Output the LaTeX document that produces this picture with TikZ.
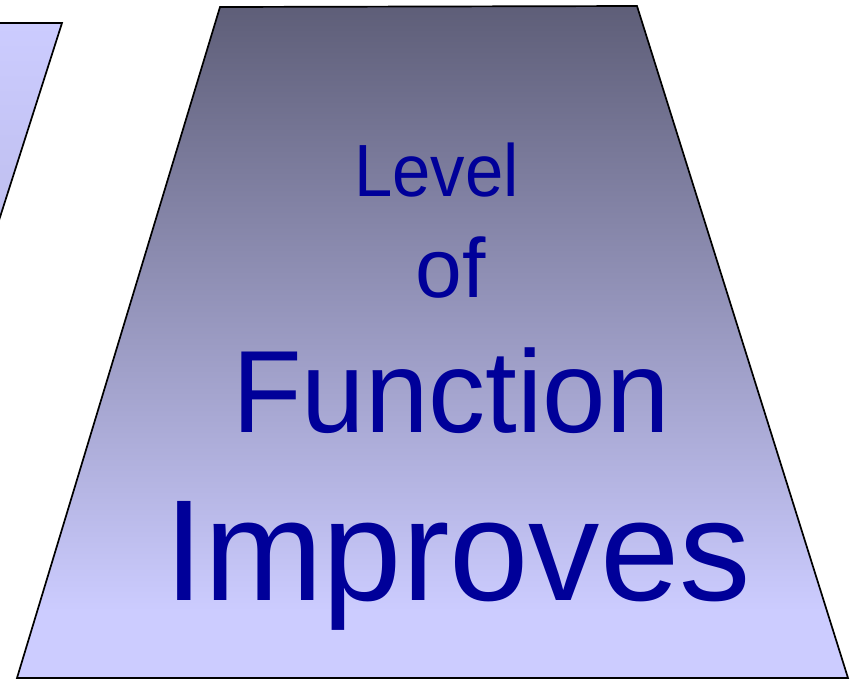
\documentclass[tikz,border=0pt]{standalone}
\usepackage{fontspec}
\setmainfont{Liberation Sans}
\usepackage{xcolor}
\definecolor{wordblue}{HTML}{000099}
\definecolor{slatetop}{HTML}{5E5E78}
\definecolor{lavender}{HTML}{CCCCFF}
\pgfdeclareverticalshading{panelfade}{100bp}{color(0bp)=(lavender); color(30bp)=(lavender); color(75bp)=(slatetop); color(100bp)=(slatetop)}

\tikzset{
	panel/.style={line width=1.7pt, draw=black},
	word/.style={text=wordblue, inner sep=0pt, anchor=base}
}

\begin{document}
\begin{tikzpicture}[x=1pt,y=-1pt]
	\useasboundingbox (0,0) rectangle (853,678);
	\clip (0,0) rectangle (853,678);
	% left panel, cut off by the frame
	\coordinate (leftA) at (-20,23);
	\coordinate (leftB) at (62,23);
	\coordinate (leftC) at (-6,236);
	\coordinate (leftD) at (-20,236);
	\shadedraw[panel, top color=lavender, bottom color=lavender!93!black] (leftA) -- (leftB) -- (leftC) -- (leftD) -- cycle;
	% main panel
	\coordinate (topL) at (220,7);
	\coordinate (topR) at (637,6);
	\coordinate (footR) at (848,678);
	\coordinate (footL) at (17,678);
	\shadedraw[panel, shading=panelfade] (topL) -- (topR) -- (footR) -- (footL) -- cycle;
	% words
	\node[word, xscale=0.93, font=\fontsize{74}{74}\selectfont] (level) at (436.5,196) {Level};
	\node[word, font=\fontsize{84}{84}\selectfont] (of) at (451,297) {of};
	\node[word, xscale=0.975, font=\fontsize{117}{117}\selectfont] (function) at (451,432) {Function};
	\node[word, xscale=0.99, font=\fontsize{144}{144}\selectfont] (improves) at (457.5,600) {Improves};
\end{tikzpicture}
\end{document}
